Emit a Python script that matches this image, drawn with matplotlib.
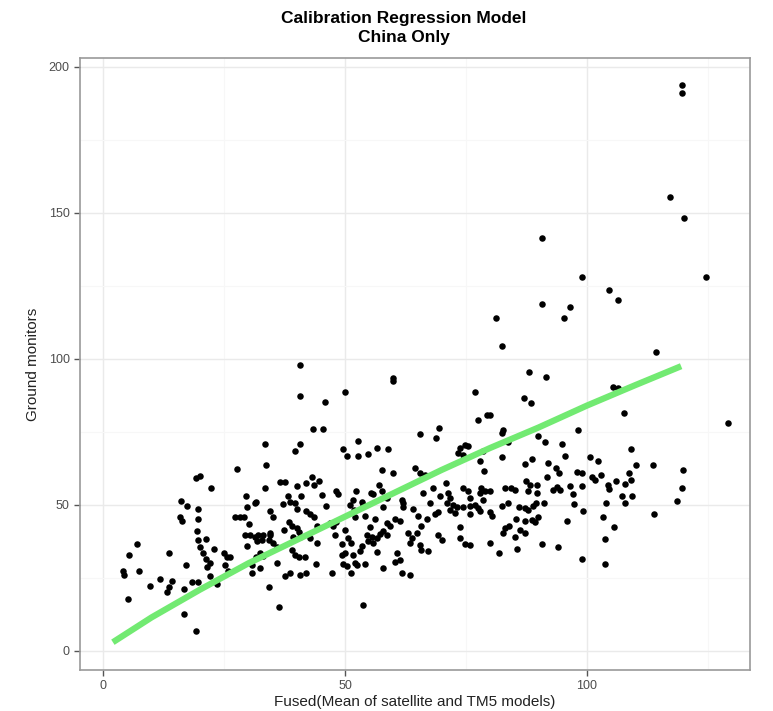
import numpy as np
import matplotlib.pyplot as plt

# fused estimate (x) and ground monitor value (y)
fused = [
    27.6, 20.0, 19.2, 22.3, 27.3, 16.1, 17.4, 19.5, 15.9, 16.3, 19.6, 19.4, 7.0, 5.4, 13.7,
    19.7, 21.3, 20.0, 22.9, 20.6, 21.3, 22.1, 21.4, 24.9, 25.6, 25.2, 25.9, 17.1, 4.1, 4.3,
    7.3, 11.8, 9.6, 14.2, 13.5, 13.2, 18.3, 19.7, 22.0, 23.5, 16.7, 5.2, 16.7, 19.2,
    31.4, 30.7, 30.7, 32.4,
    43.3, 45.4, 33.5, 40.7, 39.7, 49.6, 50.4, 52.6, 52.7, 33.7, 36.6, 37.6, 40.0, 41.9, 43.1,
    43.5, 44.7, 33.5, 48.1, 48.6, 52.3, 51.7, 51.0, 29.5, 38.3, 40.8, 31.6, 29.7, 37.1, 38.6,
    39.7, 40.0, 45.2, 46.1, 34.5, 35.1, 28.3, 29.1, 41.9, 42.8, 43.5, 30.2, 38.5, 39.0, 40.0,
    40.4, 37.3, 44.3, 46.9, 48.1, 47.6, 29.3, 30.4, 31.4, 32.1, 33.1, 34.4, 32.8, 31.8, 34.5,
    34.2, 39.2, 40.6, 42.8, 44.3, 35.2, 35.9, 29.7, 48.0, 50.0, 50.7, 49.3, 51.2, 39.0, 32.4,
    33.1, 31.6, 39.7, 40.4, 41.7, 26.2, 49.3, 50.0, 51.7, 52.1, 35.9, 44.0, 49.6, 50.5, 51.2,
    37.6, 38.6, 40.7, 41.9, 47.3, 34.2, 36.4,
    40.7, 40.7, 45.9, 50.0, 60.0, 60.0,
    69.5, 65.5, 68.8, 56.6, 58.9, 54.8, 73.8, 74.8, 75.5, 73.4, 74.4, 57.6, 59.9, 64.5, 65.5,
    66.5, 70.9, 57.1, 57.6, 55.3, 55.8, 66.1, 68.2, 74.4, 75.5, 71.3, 71.7, 69.6, 53.5, 53.8,
    51.9, 58.6, 61.7, 62.0, 62.0, 57.9, 67.6, 71.0, 72.4, 73.1, 74.4, 75.8, 76.9, 77.5, 71.7,
    72.7, 64.1, 65.1, 69.3, 68.6, 54.1, 52.1, 75.8, 56.2, 60.3, 61.4, 66.9, 58.6, 59.3, 55.2,
    65.8, 73.8, 54.5, 55.5, 56.6, 57.2, 57.9, 58.6, 63.1, 63.8, 64.8, 69.3, 70.0, 73.8, 74.8,
    75.8, 54.8, 55.8, 63.4, 65.5, 65.8, 67.2, 53.5, 53.1, 52.4, 54.1, 56.6, 60.7, 60.3, 61.4,
    57.9, 61.7, 63.4, 53.8,
    82.6, 82.4, 83.7, 89.9, 91.3, 98.2, 94.8, 78.5, 77.9, 82.4, 95.5, 100.6, 102.3, 78.7, 87.2,
    88.6, 92.0, 93.6, 94.3, 97.9, 98.9, 101.0, 101.7, 91.8, 87.4, 88.2, 89.6, 87.9, 89.6, 78.2,
    78.9, 80.0, 77.9, 83.1, 84.4, 85.1, 93.0, 93.9, 94.4, 96.5, 98.9, 97.2, 75.8, 78.5, 83.7,
    82.4, 86.0, 87.2, 87.9, 88.9, 89.5, 91.1, 97.3, 99.2, 77.9, 80.0, 80.3, 85.3, 87.2, 88.6,
    89.3, 89.9, 95.8, 83.9, 83.1, 82.7, 86.2, 87.2, 85.1, 80.0, 90.8, 81.9, 85.6, 94.1, 98.9,
    109.2, 110.1, 113.7, 119.9, 108.7, 103.0, 106.0, 104.4, 104.6, 107.9, 109.2, 119.6, 107.2,
    107.9, 109.4, 103.9, 118.7, 103.4, 113.8, 105.6, 103.7, 103.7,
    96.5, 95.2, 106.5, 114.4, 105.4, 106.5, 107.6, 129.2,
    119.6, 119.6, 117.3, 120.0, 90.8, 98.9, 124.7, 104.5, 90.8, 81.2, 82.5,
    88.1, 91.5, 76.9, 87.0, 88.4, 77.5, 79.4, 80.0,
]
ground = [
    62.2, 59.9, 59.3, 55.9, 45.9, 51.5, 49.7, 48.6, 46.0, 44.6, 45.2, 41.2, 36.5, 32.8, 33.7,
    38.0, 38.3, 35.7, 34.8, 33.5, 31.4, 30.0, 28.9, 33.7, 32.3, 29.5, 27.5, 29.3, 27.5, 26.0,
    27.4, 24.6, 22.4, 24.1, 22.0, 20.3, 23.7, 23.7, 25.8, 22.8, 21.1, 17.7, 12.6, 6.8,
    50.6, 29.5, 26.8, 28.3,
    76.0, 76.0, 70.8, 70.8, 68.3, 69.1, 66.8, 72.0, 66.8, 63.7, 57.8, 57.8, 56.5, 57.4, 59.7,
    56.8, 58.3, 55.7, 54.9, 53.8, 54.9, 51.7, 50.0, 53.1, 53.1, 53.1, 51.1, 49.2, 50.3, 51.1,
    50.6, 48.5, 53.4, 49.7, 48.0, 45.8, 45.8, 46.0, 48.0, 46.9, 45.8, 43.5, 44.3, 42.8, 42.0,
    40.9, 41.4, 42.8, 43.7, 44.3, 42.8, 39.7, 39.7, 38.9, 39.7, 39.7, 39.7, 38.0, 37.8, 40.5,
    38.0, 39.1, 39.1, 38.6, 37.1, 36.9, 35.5, 36.0, 39.7, 41.4, 38.6, 36.6, 36.9, 34.6, 33.5,
    32.5, 32.3, 32.9, 32.1, 32.1, 32.3, 32.9, 33.7, 32.9, 30.0, 30.2, 29.8, 29.8, 29.1, 26.8,
    25.7, 26.6, 26.0, 26.6, 26.6, 22.0, 15.0,
    97.9, 87.4, 85.4, 88.5, 93.6, 92.4,
    76.3, 74.3, 72.8, 69.4, 69.1, 67.5, 69.4, 70.5, 70.2, 67.7, 67.1, 62.0, 60.9, 62.6, 60.9,
    60.3, 57.6, 56.8, 54.9, 54.2, 53.8, 54.0, 55.7, 55.7, 54.6, 54.2, 52.3, 53.1, 51.1, 50.0,
    48.3, 52.3, 51.7, 50.6, 49.2, 49.2, 50.6, 50.6, 50.0, 49.4, 49.2, 49.7, 50.0, 48.9, 48.3,
    47.2, 48.5, 46.2, 47.7, 46.9, 46.2, 46.0, 46.9, 45.1, 45.1, 44.6, 45.1, 43.9, 42.8, 42.4,
    42.8, 42.6, 39.7, 38.9, 38.6, 40.1, 41.2, 39.7, 40.3, 38.6, 40.5, 39.7, 38.0, 38.6, 36.6,
    36.3, 37.8, 37.1, 37.1, 36.3, 34.6, 34.3, 36.0, 34.3, 29.5, 29.8, 34.0, 33.5, 30.6, 31.2,
    28.3, 26.8, 26.0, 15.8,
    75.7, 74.6, 71.7, 73.6, 71.7, 75.7, 70.9, 68.3, 65.2, 66.3, 66.8, 66.3, 65.2, 61.7, 64.0,
    65.7, 64.3, 62.6, 61.1, 61.4, 60.9, 59.5, 58.6, 59.5, 58.3, 56.8, 56.8, 54.9, 54.2, 55.7,
    54.9, 54.9, 54.0, 55.7, 55.7, 55.1, 55.1, 56.3, 55.1, 56.5, 56.5, 53.8, 52.3, 51.7, 50.8,
    49.7, 49.2, 48.9, 48.3, 49.7, 50.6, 50.8, 50.3, 48.0, 48.0, 47.7, 46.2, 45.1, 44.6, 44.9,
    44.3, 45.8, 44.6, 42.8, 42.0, 40.5, 41.4, 40.5, 38.9, 37.1, 36.6, 33.7, 34.8, 35.5, 31.4,
    69.1, 63.7, 63.7, 62.0, 61.1, 60.3, 58.3, 56.8, 55.4, 57.2, 58.6, 55.7, 53.1,
    50.8, 53.1, 50.8, 51.5, 46.0, 46.8, 42.4, 38.3, 29.8,
    117.7, 113.9, 120.2, 102.3, 90.5, 90.2, 81.4, 78.0,
    193.8, 191.0, 155.4, 148.4, 141.5, 128.0, 128.0, 123.6, 118.8, 114.1, 104.5,
    95.6, 93.7, 88.8, 86.5, 85.0, 79.1, 80.8, 80.8,
]

# smoothed fit
fit_x = [2, 10, 20, 30, 40, 50, 60, 70, 80, 90, 100, 110, 119.5]
fit_y = [3, 11.5, 21, 30, 38, 46, 54, 62, 69.5, 76.5, 84, 91, 97.5]

plt.rcParams['font.family'] = ['Liberation Sans', 'DejaVu Sans']

fig = plt.figure(figsize=(7.73, 7.11), dpi=100)
ax = fig.add_axes([0.1035, 0.0577, 0.8665, 0.8607])

ax.scatter(fused, ground, s=22, color='black', zorder=3, linewidths=0)
ax.plot(fit_x, fit_y, color='#72EA72', lw=4.5, zorder=4, solid_capstyle='butt')

ax.set_xlim(-4.8, 133.7)
ax.set_ylim(-6.5, 203)
ax.set_xticks([0, 50, 100])
ax.set_yticks([0, 50, 100, 150, 200])
ax.set_xticks([25, 75, 125], minor=True)
ax.set_yticks([25, 75, 125, 175], minor=True)
ax.grid(which='major', color='#EAEAEA', lw=1.0, zorder=0)
ax.grid(which='minor', color='#F7F7F7', lw=0.8, zorder=0)
ax.set_axisbelow(True)
for sp in ax.spines.values():
    sp.set_color('#9A9A9A')
    sp.set_linewidth(1.2)
ax.tick_params(which='major', length=4, width=1, color='#555555', labelcolor='#4D4D4D', labelsize=9)
ax.tick_params(which='minor', length=0)

ax.set_xlabel('Fused(Mean of satellite and TM5 models)', fontsize=11, color='#222222', labelpad=2)
ax.set_ylabel('Ground monitors', fontsize=11, color='#222222', labelpad=6)
fig.text(0.522, 0.984, 'Calibration Regression Model\nChina Only', fontsize=12.5,
         fontweight='bold', ha='center', va='top', linespacing=1.3)

fig.savefig('out.png', dpi=100)
